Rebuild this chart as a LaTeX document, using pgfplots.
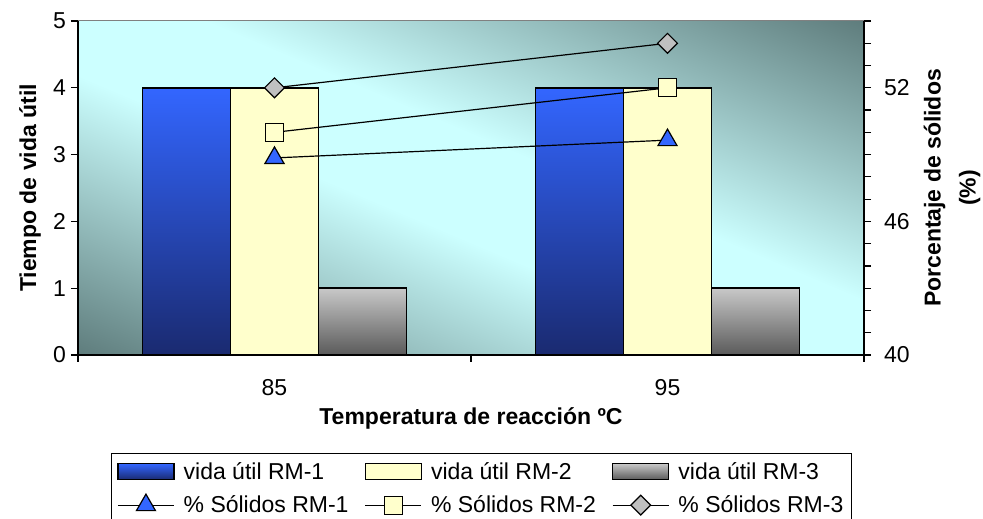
\documentclass[border=0pt]{standalone}
\usepackage{pgfplots}
\pgfplotsset{compat=1.18}
\usepackage{fontspec}
\setmainfont{Liberation Sans}
\definecolor{bgdark}{RGB}{95,125,125}
\definecolor{bglight}{RGB}{204,255,255}
\definecolor{bluetop}{RGB}{51,102,255}
\definecolor{bluebot}{RGB}{26,42,112}
\definecolor{yel}{RGB}{255,255,204}
\definecolor{graytop}{RGB}{200,200,200}
\definecolor{graybot}{RGB}{90,90,90}
\definecolor{mkgray}{RGB}{192,192,192}
\pgfdeclarehorizontalshading{bgshade}{100bp}{color(0bp)=(bgdark); color(32.1bp)=(bgdark); color(47.1bp)=(bglight); color(52.9bp)=(bglight); color(67.9bp)=(bgdark); color(100bp)=(bgdark)}
\newcommand{\fs}{\fontsize{23}{31}\selectfont}
\pgfplotsset{
  common/.style={
    at={(0pt,0pt)}, anchor=south west,
    scale only axis, width=786pt, height=334pt,
    xmin=-0.5, xmax=1.5,
    tick align=outside,
    major tick length=7pt, minor tick length=7pt,
    every tick/.style={black, line width=1.2pt},
    axis line style={black, line width=1.4pt},
    tick label style={font=\fs},
    /pgf/number format/assume math mode=true,
  },
  myline/.style={legend image code/.code={\draw[mark repeat=2,mark phase=2,##1] plot coordinates {(0pt,0pt)(28pt,0pt)(56pt,0pt)};}},
}
\begin{document}
\begin{tikzpicture}
\path[use as bounding box] (-78pt,-164pt) rectangle (905pt,355pt);
% plot-area background (decoration only)
\begin{scope}
\clip (0pt,0pt) rectangle (786pt,334pt);
\shade[shading=bgshade, shading angle=67] (-37pt,-263pt) rectangle (823pt,597pt);
\end{scope}
\begin{axis}[common,
  ymin=0, ymax=5, ytick={0,1,2,3,4,5},
  axis x line*=bottom, axis y line*=left,
  xtick={0,1}, xticklabels={85,95},
  major x tick style={draw=none},
  minor xtick={-0.5,0.5,1.5},
  ybar=0pt, bar width=88pt,
  axis background/.style={draw=gray, line width=1pt},
  xlabel={Temperatura de reacción ºC},
  ylabel={Tiempo de vida útil},
  every axis x label/.style={at={(axis description cs:0.5,0)}, anchor=center, yshift=-63pt, font=\fs\bfseries},
  every axis y label/.style={at={(axis description cs:0,0.5)}, xshift=-48pt, rotate=90, anchor=center, font=\fs\bfseries},
  yticklabel style={anchor=east, inner sep=0pt, xshift=-5pt},
  xticklabel style={anchor=north, inner sep=0pt, yshift=-17pt},
]
\addplot[draw=black, line width=1.6pt, top color=bluetop, bottom color=bluebot] coordinates {(0,4) (1,4)};
\addplot[draw=black, line width=1.6pt, fill=yel] coordinates {(0,4) (1,4)};
\addplot[draw=black, line width=1.6pt, top color=graytop, bottom color=graybot] coordinates {(0,1) (1,1)};
\end{axis}
\begin{axis}[common,
  ymin=40, ymax=55, ytick={40,46,52},
  minor ytick={41,42,43,44,45,47,48,49,50,51,53,54,55},
  axis y line*=right, axis x line=none,
  clip=false,
  ylabel={Porcentaje de sólidos\\(\%)},
  every axis y label/.style={at={(axis description cs:1,0.5)}, xshift=88pt, rotate=90, anchor=center, align=center, font=\fontsize{23}{35}\selectfont\bfseries},
  yticklabel style={anchor=west, inner sep=0pt, xshift=13pt},
  legend columns=3,
  legend cell align=left,
  legend style={
    at={(0.0416,-0.2934)}, anchor=north west,
    draw=black, line width=1pt, inner xsep=6pt, inner ysep=7pt,
    font=\fs, row sep=11pt,
    /tikz/every odd column/.style={column sep=7pt},
    /tikz/every even column/.style={column sep=14pt},
  },
]
\addlegendimage{legend image code/.code={\draw[draw=black, line width=1.5pt, top color=bluetop, bottom color=bluebot] (0pt,-8pt) rectangle (56pt,8pt);}}
\addlegendentry{vida útil RM-1}
\addlegendimage{legend image code/.code={\draw[draw=black, line width=1.5pt, fill=yel] (0pt,-8pt) rectangle (56pt,8pt);}}
\addlegendentry{vida útil RM-2}
\addlegendimage{legend image code/.code={\draw[draw=black, line width=1.5pt, top color=graytop, bottom color=graybot] (0pt,-8pt) rectangle (56pt,8pt);}}
\addlegendentry{vida útil RM-3}
\addplot[myline, black, line width=1.2pt, mark=triangle*, mark size=11pt, mark options={fill=bluetop, draw=black, line width=1.2pt}] coordinates {(0,48.85) (1,49.65)};
\addlegendentry{\% Sólidos RM-1}
\addplot[myline, black, line width=1.2pt, mark=square*, mark size=9pt, mark options={fill=yel, draw=black, line width=1.2pt}] coordinates {(0,50.0) (1,52.0)};
\addlegendentry{\% Sólidos RM-2}
\addplot[myline, black, line width=1.2pt, mark=square*, mark size=7pt, mark options={fill=mkgray, draw=black, line width=1.2pt, rotate=45}] coordinates {(0,52.0) (1,54.0)};
\addlegendentry{\% Sólidos RM-3}
\end{axis}
\end{tikzpicture}
\end{document}
